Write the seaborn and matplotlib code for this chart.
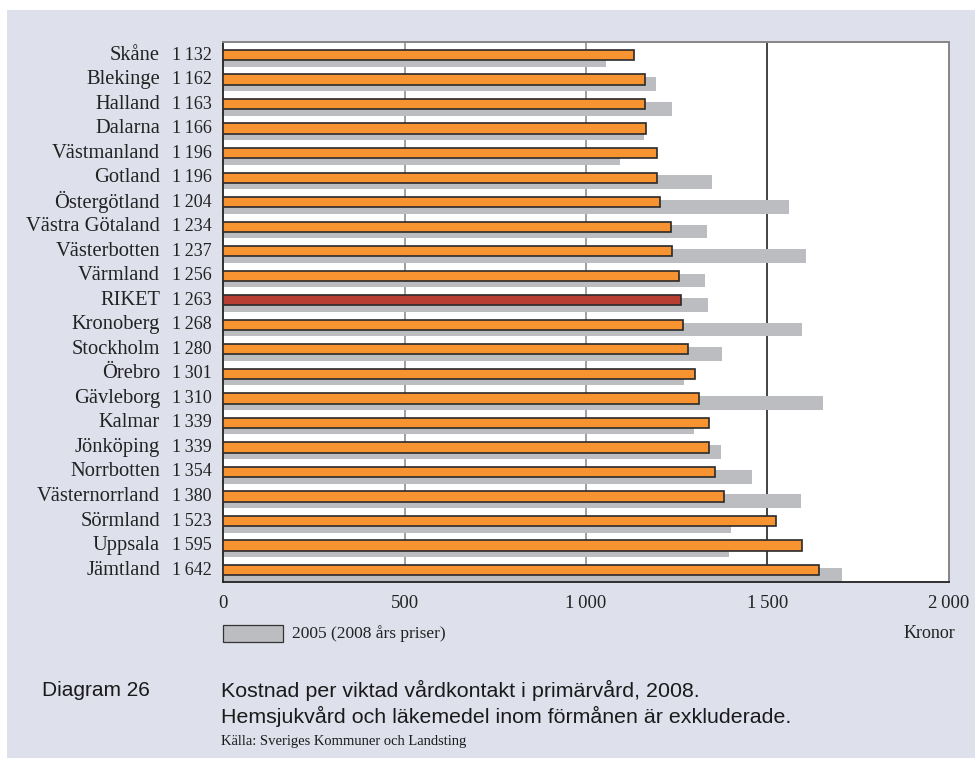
import matplotlib
matplotlib.use("Agg")
import matplotlib.pyplot as plt
import matplotlib.transforms as mtransforms
from matplotlib.patches import Rectangle
import seaborn as sns
import pandas as pd

regions = ["Skåne", "Blekinge", "Halland", "Dalarna", "Västmanland", "Gotland",
           "Östergötland", "Västra Götaland", "Västerbotten", "Värmland", "RIKET",
           "Kronoberg", "Stockholm", "Örebro", "Gävleborg", "Kalmar", "Jönköping",
           "Norrbotten", "Västernorrland", "Sörmland", "Uppsala", "Jämtland"]
values_2008 = [1132, 1162, 1163, 1166, 1196, 1196, 1204, 1234, 1237, 1256, 1263,
               1268, 1280, 1301, 1310, 1339, 1339, 1354, 1380, 1523, 1595, 1642]
values_2005 = [1055, 1193, 1237, 1160, 1094, 1348, 1560, 1334, 1607, 1328, 1336,
               1596, 1375, 1270, 1653, 1298, 1372, 1458, 1593, 1400, 1394, 1706]
x_ticks = [0, 500, 1000, 1500, 2000]
x_tick_labels = ["0", "500", "1\u2009000", "1\u2009500", "2\u2009000"]

df = pd.DataFrame({"region": regions, "v2008": values_2008, "v2005": values_2005})

sns.set_theme(style="white")
SERIF = ["Liberation Serif", "DejaVu Serif"]
SANS = ["Liberation Sans", "DejaVu Sans"]
plt.rcParams["font.family"] = SERIF

BG = "#dee1ec"
ORANGE = "#f79431"
RED = "#b83d33"
GRAY = "#bcbdc1"
TXT = "#222222"

fig = plt.figure(figsize=(9.75, 7.61), dpi=100)
fig.patch.set_facecolor("white")
fig.patches.append(Rectangle((7 / 975, 0.004), 1.0, 1 - 10 / 761 - 0.004,
                             transform=fig.transFigure, facecolor=BG,
                             edgecolor="none", zorder=-10))

ax = fig.add_axes([223 / 975, 1 - 582 / 761, (949 - 223) / 975, (582 - 42) / 761])
ax.set_facecolor("white")

# gray 2005 bars (behind)
n0 = len(ax.patches)
sns.barplot(data=df, x="v2005", y="region", orient="h", color=GRAY,
            width=0.56, saturation=1, ax=ax, zorder=1, linewidth=0)
for p in ax.patches[n0:]:
    p.set_y(p.get_y() + 0.096)
    p.set_zorder(1)

# orange 2008 bars
palette = {r: (RED if r == "RIKET" else ORANGE) for r in regions}
n1 = len(ax.patches)
sns.barplot(data=df, x="v2008", y="region", hue="region", palette=palette,
            orient="h", width=0.42, saturation=1, legend=False, ax=ax,
            edgecolor="#2a2a2a", linewidth=1.2)
for p in ax.patches[n1:]:
    p.set_y(p.get_y() - 0.096)
    p.set_zorder(3)

# grid lines
for gx, c in [(500, "#858585"), (1000, "#858585"), (1500, "#111111")]:
    ax.axvline(gx, color=c, lw=1.1, zorder=0.5)

ax.set_xlim(0, 2000)
ax.set_ylim(21.39, -0.627)
ax.set_xlabel("")
ax.set_ylabel("")
ax.set_yticks([])
ax.set_xticks(x_ticks)
ax.set_xticklabels([])
ax.tick_params(axis="x", length=0)

for s in ["left", "bottom"]:
    ax.spines[s].set_color("#222222")
    ax.spines[s].set_linewidth(1.3)
for s in ["top", "right"]:
    ax.spines[s].set_color("#858585")
    ax.spines[s].set_linewidth(1.4)

# row labels
trans = mtransforms.blended_transform_factory(fig.transFigure, ax.transData)
for i, (r, v) in enumerate(zip(regions, values_2008)):
    yv = i - 0.096
    ax.text(160 / 975, yv, r, transform=trans, ha="right", va="center",
            fontsize=14.8, color=TXT, family=SERIF)
    s = f"{v:,}".replace(",", "\u2009")
    ax.text(212 / 975, yv, s, transform=trans, ha="right", va="center",
            fontsize=13, color=TXT, family=SERIF)

# x tick labels
tx = mtransforms.blended_transform_factory(ax.transData, fig.transFigure)
for xv, lab in zip(x_ticks, x_tick_labels):
    ax.text(xv, 1 - 603 / 761, lab, transform=tx, ha="center", va="center",
            fontsize=13.5, color=TXT, family=SERIF)

# legend
fig.patches.append(Rectangle((223 / 975, 1 - 642 / 761), 60 / 975, 17 / 761,
                             transform=fig.transFigure, facecolor=GRAY,
                             edgecolor="#333333", lw=0.9))
fig.text(292 / 975, 1 - 634 / 761, "2005 (2008 års priser)", ha="left",
         va="center", fontsize=12.5, color=TXT, family=SERIF)
fig.text(955 / 975, 1 - 634 / 761, "Kronor", ha="right", va="center",
         fontsize=13, color=TXT, family=SERIF)

# caption
fig.text(42 / 975, 1 - 690 / 761, "Diagram 26", ha="left", va="center",
         fontsize=15, color="#1a1a1a", family=SANS)
fig.text(221 / 975, 1 - 690 / 761,
         "Kostnad per viktad vårdkontakt i primärvård, 2008.", ha="left",
         va="center", fontsize=15.4, color="#1a1a1a", family=SANS)
fig.text(221 / 975, 1 - 716 / 761,
         "Hemsjukvård och läkemedel inom förmånen är exkluderade.", ha="left",
         va="center", fontsize=15.4, color="#1a1a1a", family=SANS)
fig.text(221 / 975, 1 - 742 / 761, "Källa: Sveriges Kommuner och Landsting",
         ha="left", va="center", fontsize=10.5, color="#1a1a1a", family=SERIF)

fig.savefig("out.png", dpi=100, facecolor=fig.get_facecolor())
